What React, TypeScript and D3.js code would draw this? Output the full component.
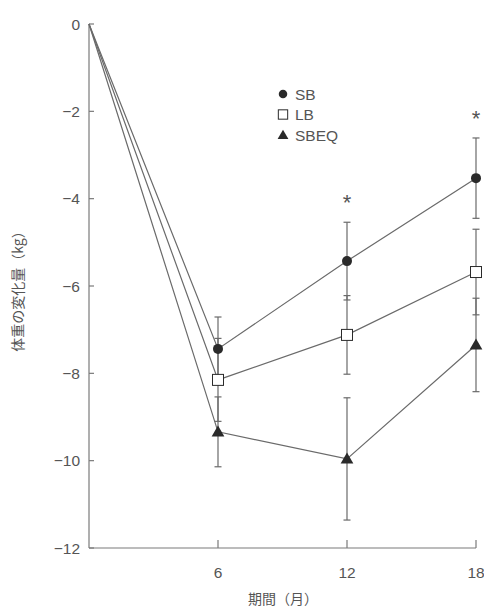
import React from "react";
import * as d3 from "d3";

// months on the x axis
const months = [0, 6, 12, 18];

// mean change in body weight (kg)
const sbValues = [0, -7.44, -5.43, -3.53];
const lbValues = [0, -8.15, -7.12, -5.68];
const sbeqValues = [0, -9.34, -9.96, -7.35];

// error (kg), none at month 0
const sbErr = [0, 0.73, 0.89, 0.92];
const lbErr = [0, 0.95, 0.9, 0.98];
const sbeqErr = [0, 0.8, 1.4, 1.07];

const yTicks = [0, -2, -4, -6, -8, -10, -12];
const xTicks = [6, 12, 18];
const starMonths = [12, 18];

const seriesNames = ["SB", "LB", "SBEQ"];

const W = 484;
const H = 610;
const margin = { left: 89, right: 8, top: 24, bottom: 62 };

const ink = "#2a2a2a";
const lineCol = "#6a6a6a";
const axisCol = "#7a7a7a";
const textCol = "#555";
const font = "'Liberation Sans', Arial, sans-serif";
const jpFont = "'Noto Sans CJK JP', sans-serif";

const Marker = ({ kind, x, y, s = 1 }: { kind: string; x: number; y: number; s?: number }) => {
  if (kind === "SB") return <circle cx={x} cy={y} r={5 * s} fill={ink} />;
  if (kind === "LB")
    return (
      <rect
        x={x - 5.5 * s}
        y={y - 5.5 * s}
        width={11 * s}
        height={11 * s}
        fill="#fff"
        stroke={ink}
        strokeWidth={1}
      />
    );
  const p = d3.symbol().type(d3.symbolTriangle).size(70 * s * s)();
  return <path d={p || ""} transform={`translate(${x},${y + 1})`} fill={ink} />;
};

export default function App() {
  const x = d3.scaleLinear().domain([0, 18]).range([margin.left, W - margin.right]);
  const y = d3.scaleLinear().domain([0, -12]).range([margin.top, H - margin.bottom]);

  const series = [
    { name: "SB", values: sbValues, err: sbErr },
    { name: "LB", values: lbValues, err: lbErr },
    { name: "SBEQ", values: sbeqValues, err: sbeqErr },
  ];

  const line = d3
    .line<number>()
    .x((_, i) => x(months[i]))
    .y((d) => y(d));

  const x0 = x(0);
  const yBottom = y(-12);

  return (
    <svg width={W} height={H} style={{ position: "absolute", left: 0, top: 0, background: "#fff" }}>
      {/* axes */}
      <line x1={x0} x2={x0} y1={y(0)} y2={yBottom} stroke={axisCol} strokeWidth={1.2} />
      <line x1={x0} x2={x(18)} y1={yBottom} y2={yBottom} stroke={axisCol} strokeWidth={1.2} />
      {yTicks.map((t) => (
        <g key={t}>
          <line x1={x0} x2={x0 + 5} y1={y(t)} y2={y(t)} stroke={axisCol} strokeWidth={1.2} />
          <text
            x={x0 - 9}
            y={y(t)}
            dy="0.36em"
            textAnchor="end"
            fontFamily={font}
            fontSize={15.5}
            fill={textCol}
          >
            {t === 0 ? "0" : `\u2212${Math.abs(t)}`}
          </text>
        </g>
      ))}
      {xTicks.map((t) => (
        <g key={t}>
          <line x1={x(t)} x2={x(t)} y1={yBottom} y2={yBottom - 8} stroke={axisCol} strokeWidth={1.2} />
          <text x={x(t)} y={yBottom + 30} textAnchor="middle" fontFamily={font} fontSize={15.5} fill={textCol}>
            {t}
          </text>
        </g>
      ))}
      <text x={283} y={604} textAnchor="middle" fontFamily={jpFont} fontSize={14} fill={textCol}>
        期間（月）
      </text>
      <text
        transform={`translate(23,288) rotate(-90)`}
        textAnchor="middle"
        fontFamily={jpFont}
        fontSize={14}
        fill={textCol}
      >
        体重の変化量（kg）
      </text>

      {/* error bars */}
      {series.map((s) =>
        s.values.map((v, i) =>
          s.err[i] > 0 ? (
            <g key={`${s.name}-e-${i}`} stroke={lineCol} strokeWidth={1.2}>
              <line x1={x(months[i])} x2={x(months[i])} y1={y(v + s.err[i])} y2={y(v - s.err[i])} />
              <line x1={x(months[i]) - 3.5} x2={x(months[i]) + 3.5} y1={y(v + s.err[i])} y2={y(v + s.err[i])} />
              <line x1={x(months[i]) - 3.5} x2={x(months[i]) + 3.5} y1={y(v - s.err[i])} y2={y(v - s.err[i])} />
            </g>
          ) : null
        )
      )}

      {/* lines */}
      {series.map((s) => (
        <path key={s.name} d={line(s.values) || ""} fill="none" stroke={lineCol} strokeWidth={1.2} />
      ))}

      {/* markers */}
      {series.map((s) =>
        s.values.map((v, i) =>
          i > 0 ? <Marker key={`${s.name}-m-${i}`} kind={s.name} x={x(months[i])} y={y(v)} /> : null
        )
      )}

      {/* significance */}
      {starMonths.map((m) => {
        const i = months.indexOf(m);
        return (
          <text
            key={m}
            x={x(m)}
            y={y(sbValues[i] + sbErr[i]) - 12}
            textAnchor="middle"
            fontFamily={font}
            fontSize={22}
            fill={textCol}
          >
            *
          </text>
        );
      })}

      {/* legend */}
      {seriesNames.map((n, i) => (
        <g key={n}>
          <Marker kind={n} x={283} y={94 + i * 20.5} s={0.85} />
          <text x={295} y={94 + i * 20.5} dy="0.36em" fontFamily={font} fontSize={15.5} fill={textCol}>
            {n}
          </text>
        </g>
      ))}
    </svg>
  );
}
